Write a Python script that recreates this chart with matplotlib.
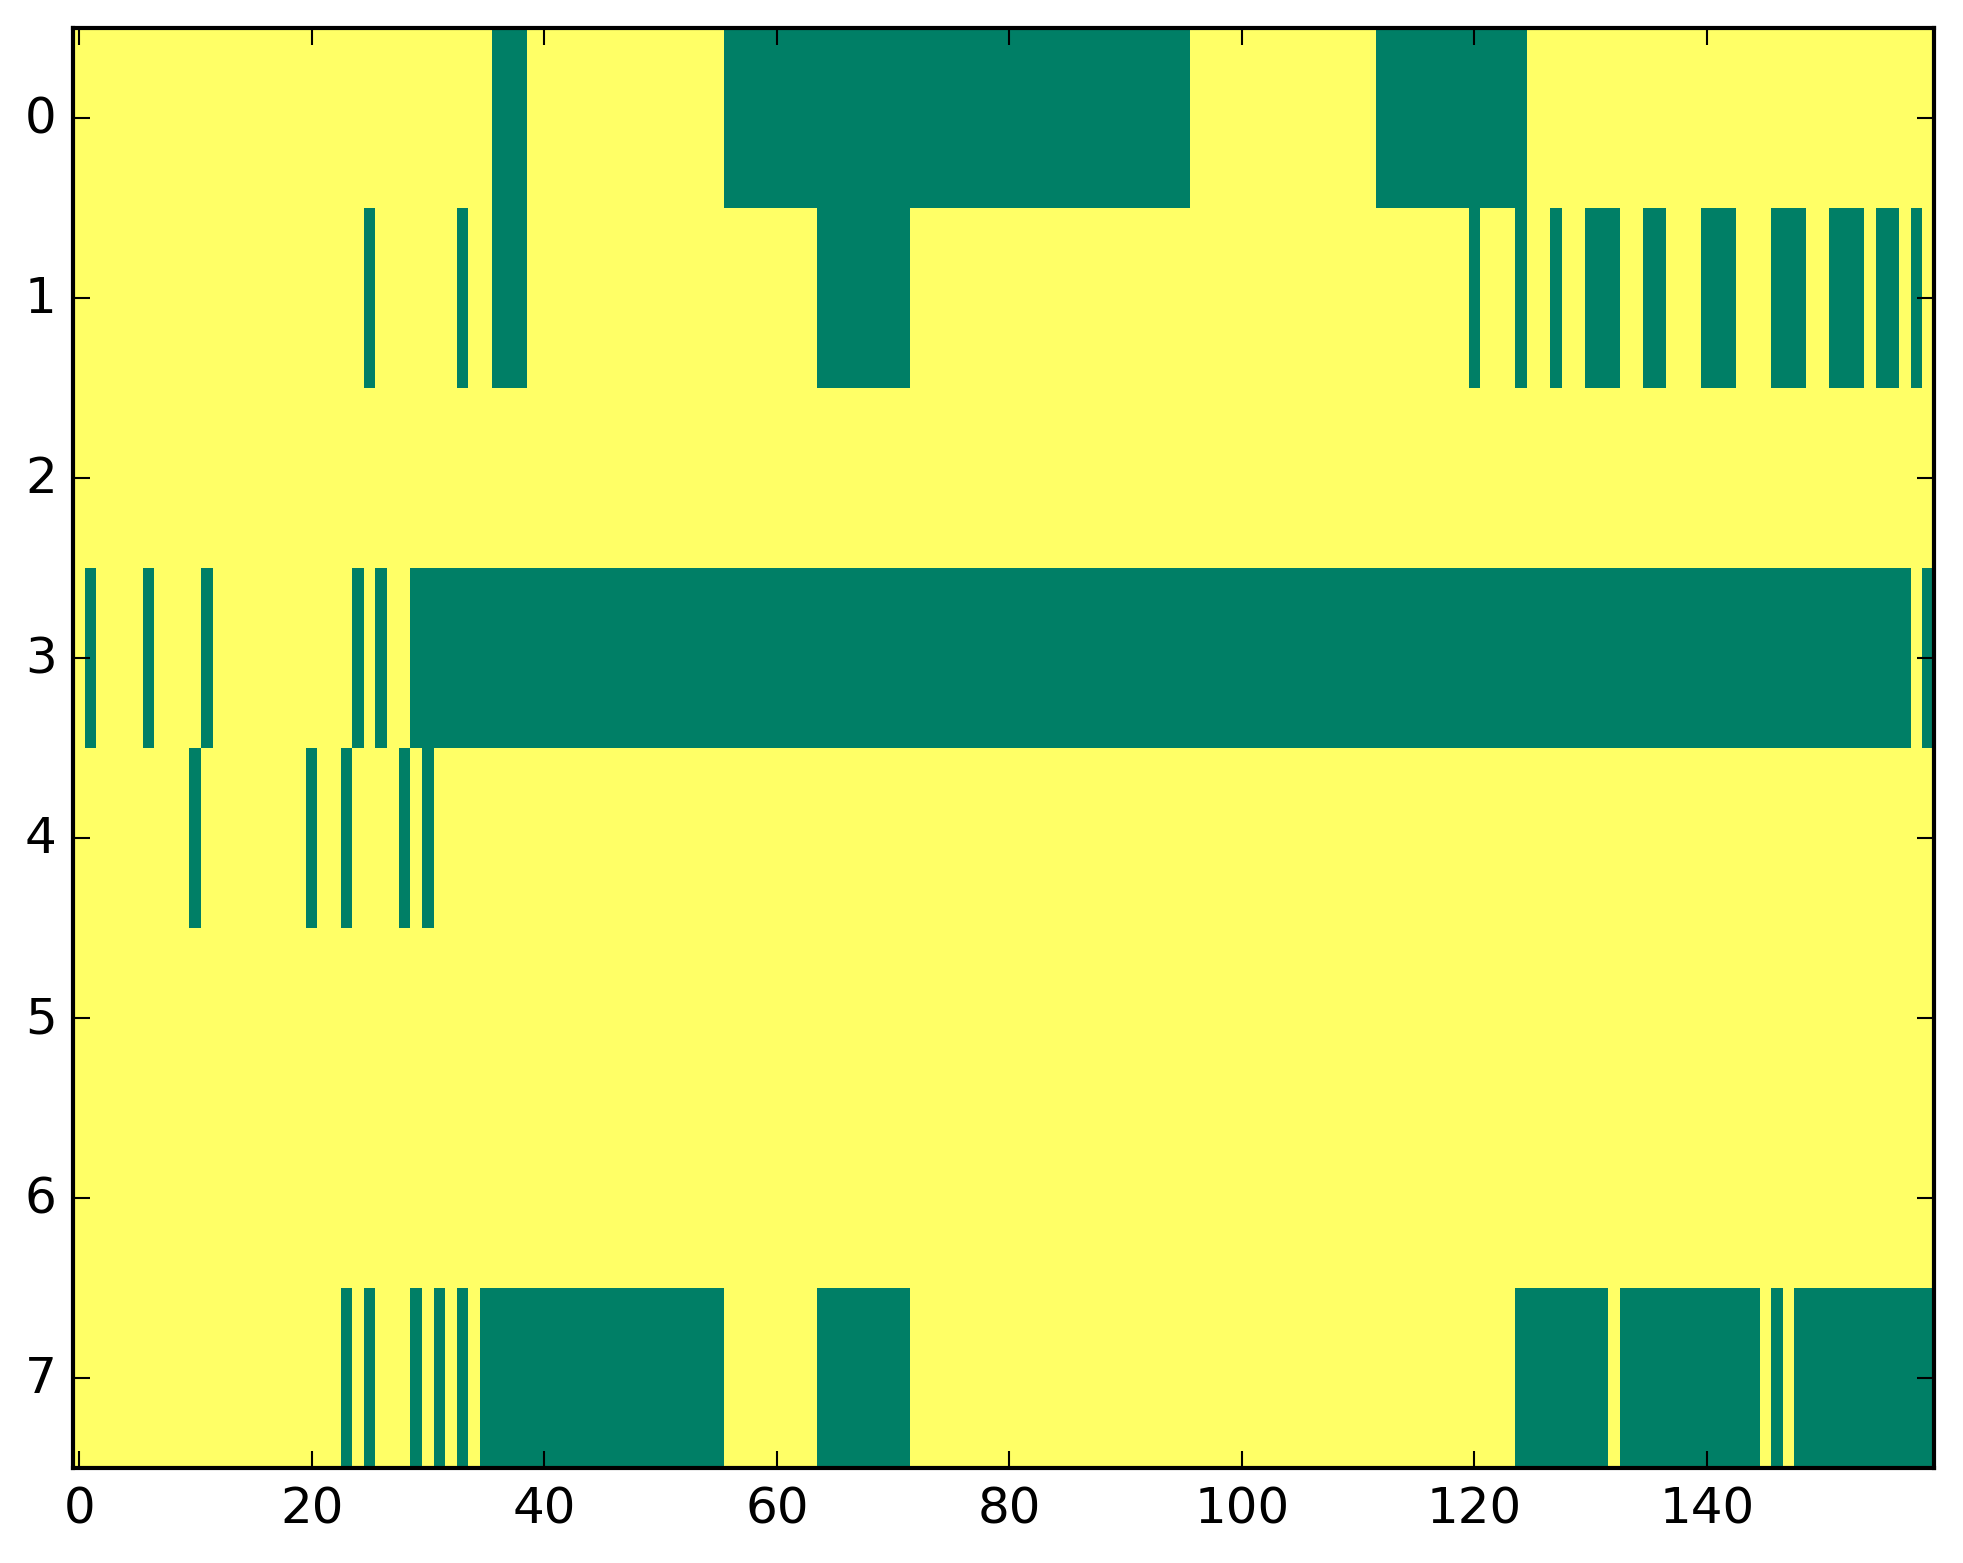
"""
plot.py

Binary occupancy matrix (8 rows x 160 columns) drawn with imshow
and the 'summer' colormap, classic matplotlib look.
"""

import numpy as np
import matplotlib
matplotlib.use("Agg")
import matplotlib.pyplot as plt

n_rows = 8
n_cols = 160

# columns that are 0 (green) in each row, as inclusive (start, end) runs
row0_zero = [(36, 38), (56, 95), (112, 124)]
row1_zero = [(25, 25), (33, 33), (36, 38), (64, 71), (120, 120), (124, 124),
             (127, 127), (130, 132), (135, 136), (140, 142), (146, 148),
             (151, 153), (155, 156), (158, 158)]
row2_zero = []
row3_zero = [(1, 1), (6, 6), (11, 11), (24, 24), (26, 26), (29, 157), (159, 159)]
row4_zero = [(10, 10), (20, 20), (23, 23), (28, 28), (30, 30)]
row5_zero = []
row6_zero = []
row7_zero = [(23, 23), (25, 25), (29, 29), (31, 31), (33, 33), (35, 55),
             (64, 71), (124, 131), (133, 144), (146, 146), (148, 159)]

zero_runs = [row0_zero, row1_zero, row2_zero, row3_zero,
             row4_zero, row5_zero, row6_zero, row7_zero]

x_ticks = [0, 20, 40, 60, 80, 100, 120, 140]
y_ticks = list(range(n_rows))

data = np.ones((n_rows, n_cols))
for r, runs in enumerate(zero_runs):
    for start, end in runs:
        data[r, start:end + 1] = 0

plt.style.use("classic")
dpi = 300
fig = plt.figure(figsize=(1963 / dpi, 1564 / dpi), dpi=dpi, facecolor="white")
ax = fig.add_axes([0.0374, 0.0607, 0.9477, 0.9207])

ax.imshow(data, cmap="summer", aspect="auto", interpolation="nearest",
          vmin=0, vmax=1)
ax.set_xticks(x_ticks)
ax.set_yticks(y_ticks)
ax.set_xlim(-0.5, n_cols - 0.5)
ax.set_ylim(n_rows - 0.5, -0.5)

fig.savefig("out.png", dpi=dpi, facecolor="white")
